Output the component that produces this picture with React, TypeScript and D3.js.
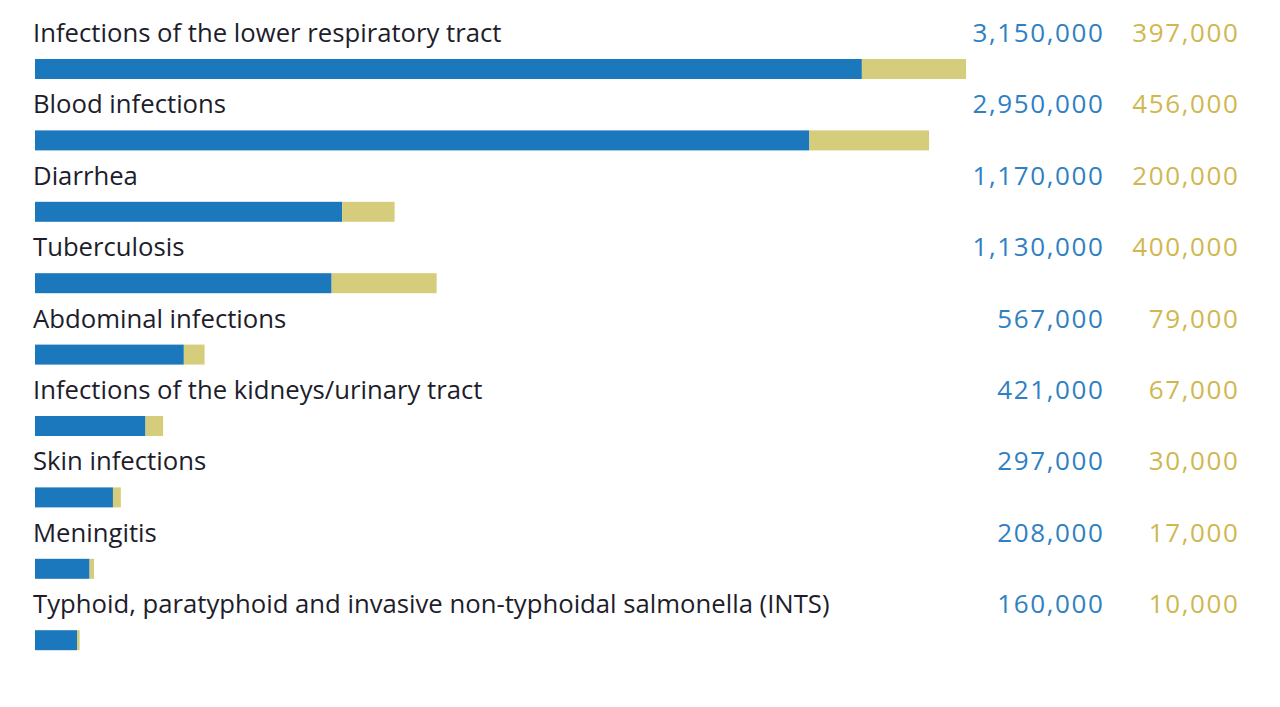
import * as d3 from "d3";
import React from "react";

const causes = [
  "Infections of the lower respiratory tract",
  "Blood infections",
  "Diarrhea",
  "Tuberculosis",
  "Abdominal infections",
  "Infections of the kidneys/urinary tract",
  "Skin infections",
  "Meningitis",
  "Typhoid, paratyphoid and invasive non-typhoidal salmonella (INTS)",
];
const blueValues = [3150000, 2950000, 1170000, 1130000, 567000, 421000, 297000, 208000, 160000];
const yellowValues = [397000, 456000, 200000, 400000, 79000, 67000, 30000, 17000, 10000];

const W = 1280;
const H = 707;
const BLUE = "#1b78bd";
const YELLOW = "#d6cd7c";
const BLUE_TEXT = "#2f80c3";
const YELLOW_TEXT = "#d0b750";

const App = () => {
  const x = d3.scaleLinear().domain([0, 1000000]).range([35, 35 + 262.5]);
  const y = d3.scaleBand().domain(causes).range([17, 17 + 71.4 * causes.length]).padding(0);
  const fmt = d3.format(",");

  return (
    <svg width={W} height={H} style={{ position: "absolute", left: 0, top: 0, background: "#fff" }}>
      <rect width={W} height={H} fill="#fff" />
      {causes.map((c, i) => {
        const y0 = y(c)!;
        const b = blueValues[i];
        const yl = yellowValues[i];
        return (
          <g key={c} fontFamily="'Open Sans', 'Noto Sans', sans-serif" fontSize={26}>
            <text x={33} y={y0 + 25} fill="#1d1d2b" fontSize={25.7}>{c}</text>
            <text x={1104.5} y={y0 + 25} textAnchor="end" fill={BLUE_TEXT} letterSpacing={1.6}>{fmt(b)}</text>
            <text x={1239.5} y={y0 + 25} textAnchor="end" fill={YELLOW_TEXT} letterSpacing={1.6}>{fmt(yl)}</text>
            <rect x={x(0)} y={y0 + 42} width={x(b) - x(0)} height={20} fill={BLUE} />
            <rect x={x(b)} y={y0 + 42} width={x(b + yl) - x(b)} height={20} fill={YELLOW} />
          </g>
        );
      })}
    </svg>
  );
};

export default App;
